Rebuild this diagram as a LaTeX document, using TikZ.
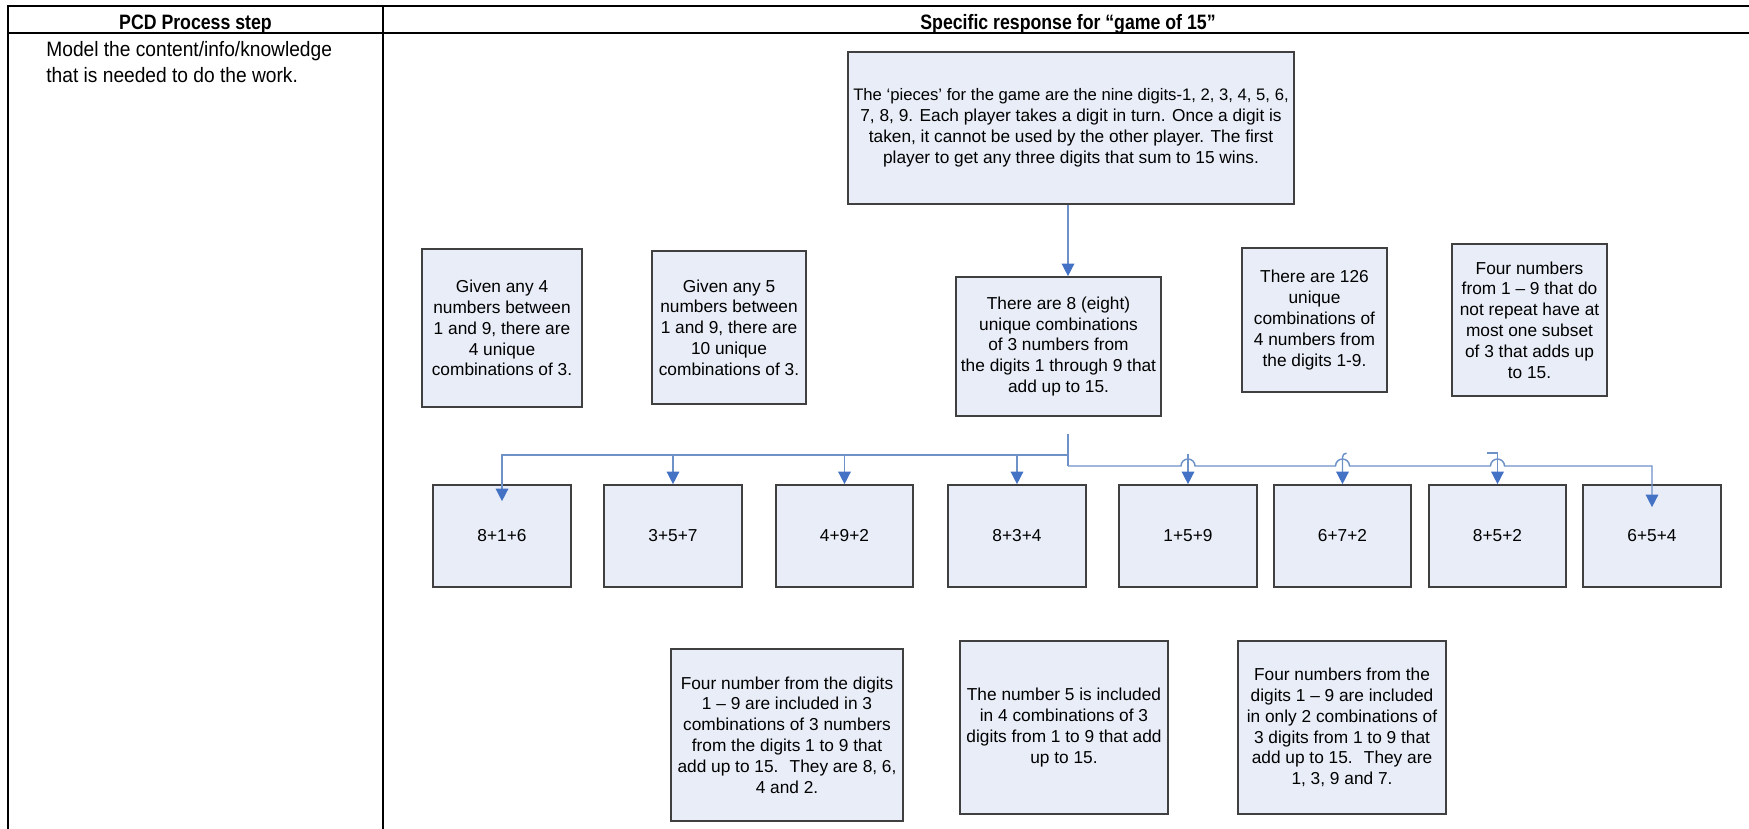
\documentclass[tikz,border=0pt]{standalone}
\usepackage{fontspec}
\setmainfont{Liberation Sans}
\newfontfamily\tablefont[FakeStretch=0.92]{Liberation Sans}
\newfontfamily\tablehead[FakeStretch=0.85]{Liberation Sans Bold}
\usetikzlibrary{arrows.meta,calc}

\definecolor{boxfill}{RGB}{232,237,247}
\definecolor{boxline}{RGB}{64,64,64}
\definecolor{linkblue}{RGB}{110,145,200}
\definecolor{tipblue}{RGB}{68,114,196}

% box given by its corners (x1,y1) and (x2,y2), in pixel units
\newcommand\cardat[6]{%
  \node[card, minimum width={(#4-#2)*0.48pt}, minimum height={(#5-#3)*0.48pt}]
    (#1) at ({(#2+#4)/2},{(#3+#5)/2}) {#6};}

\begin{document}
\begin{tikzpicture}[x=0.48pt,y=-0.48pt,
  card/.style={draw=boxline, fill=boxfill, line width=0.8pt, inner sep=0pt,
    align=center, font=\fontsize{8.3}{10}\selectfont},
  link/.style={draw=linkblue, line width=0.7pt},
  linkarrow/.style={link, -{Triangle[length=6pt,width=6pt,color=tipblue]}},
  rule/.style={line width=1.4pt, black},
  headtext/.style={font=\tablehead\fontsize{10}{12.5}\selectfont, inner sep=0pt, anchor=base},
  bodytext/.style={font=\tablefont\fontsize{10}{12.5}\selectfont, inner sep=0pt,
    align=left, anchor=north west}]

\fill[white] (0,0) rectangle (1749,829);
\useasboundingbox (0,0) rectangle (1749,829);

% table frame
\draw[rule] (1749,6) -- (8,6) -- (8,829);
\draw[rule] (8,33) -- (1749,33);
\draw[rule] (383,6) -- (383,829);

\node[headtext] (colstep) at (195.5,30) {PCD Process step};
\node[headtext] (colresp) at (1068,30) {Specific response for “game of 15”};
\node[bodytext] (stepdesc) at (46,41) {Model the content/info/knowledge\\that is needed to do the work.};

% rule box
\cardat{top}{848}{52}{1294}{204}{\fontsize{8}{9.4}\selectfont
  The ‘pieces’ for the game are the nine digits-1, 2, 3, 4, 5, 6,\\
  7, 8, 9. Each player takes a digit in turn. Once a digit is\\
  taken, it cannot be used by the other player. The first\\
  player to get any three digits that sum to 15 wins.}

% facts
\cardat{given4}{422}{249}{582}{407}{Given any 4\\numbers between\\1 and 9, there are\\4 unique\\combinations of 3.}
\cardat{given5}{652}{251}{806}{404}{Given any 5\\numbers between\\1 and 9, there are\\10 unique\\combinations of 3.}
\cardat{eight}{956}{277}{1161}{416}{There are 8 (eight)\\unique combinations\\of 3 numbers from\\the digits 1 through 9 that\\add up to 15.}
\cardat{many}{1242}{248}{1387}{392}{There are 126\\unique\\combinations of\\4 numbers from\\the digits 1-9.}
\cardat{subset}{1452}{244}{1607}{396}{Four numbers\\from 1 – 9 that do\\not repeat have at\\most one subset\\of 3 that adds up\\to 15.}

% the eight triples
\cardat{s1}{433}{485}{571}{587}{8+1+6}
\cardat{s2}{604}{485}{742}{587}{3+5+7}
\cardat{s3}{776}{485}{913}{587}{4+9+2}
\cardat{s4}{948}{485}{1086}{587}{8+3+4}
\cardat{s5}{1119}{485}{1257}{587}{1+5+9}
\cardat{s6}{1274}{485}{1411}{587}{6+7+2}
\cardat{s7}{1429}{485}{1566}{587}{8+5+2}
\cardat{s8}{1583}{485}{1721}{587}{6+5+4}

% observations
\cardat{corners}{671}{649}{903}{821}{Four number from the digits\\1 – 9 are included in 3\\combinations of 3 numbers\\from the digits 1 to 9 that\\add up to 15.~ They are 8, 6,\\4 and 2.}
\cardat{five}{960}{641}{1168}{814}{The number 5 is included\\in 4 combinations of 3\\digits from 1 to 9 that add\\up to 15.}
\cardat{edges}{1238}{641}{1446}{814}{Four numbers from the\\digits 1 – 9 are included\\in only 2 combinations of\\3 digits from 1 to 9 that\\add up to 15.~ They are\\1, 3, 9 and 7.}

% connectors
\coordinate (split) at (1068,434);
\coordinate (upper) at (1068,455);
\coordinate (lower) at (1068,466);

\draw[linkarrow] (top.south -| split) -- (eight.north -| split);
\draw[link] (split) -- (lower);

\draw[linkarrow] (upper) -| ($(s1.north)+(0,17)$);
\foreach \s in {s2,s3,s4} \draw[linkarrow] (upper) -| (\s.north);

\draw[linkarrow] (lower)
  -- ($(s5.north |- lower)+(-7,0)$) arc[start angle=180,end angle=0,radius=3.36pt]
  -- ($(s6.north |- lower)+(-7,0)$) arc[start angle=180,end angle=0,radius=3.36pt]
  -- ($(s7.north |- lower)+(-7,0)$) arc[start angle=180,end angle=0,radius=3.36pt]
  -- (s8.north |- lower) -- ($(s8.north)+(0,23)$);

\draw[linkarrow] ($(s5.north)+(0,-30)$) -- (s5.north);
\draw[linkarrow] ($(s6.north)+(4,-31)$) to[out=180,in=90] ($(s6.north)+(0,-27)$) -- (s6.north);
\draw[linkarrow] ($(s7.north)+(-11,-31)$) -- ++(11,0) -- (s7.north);

\end{tikzpicture}
\end{document}
